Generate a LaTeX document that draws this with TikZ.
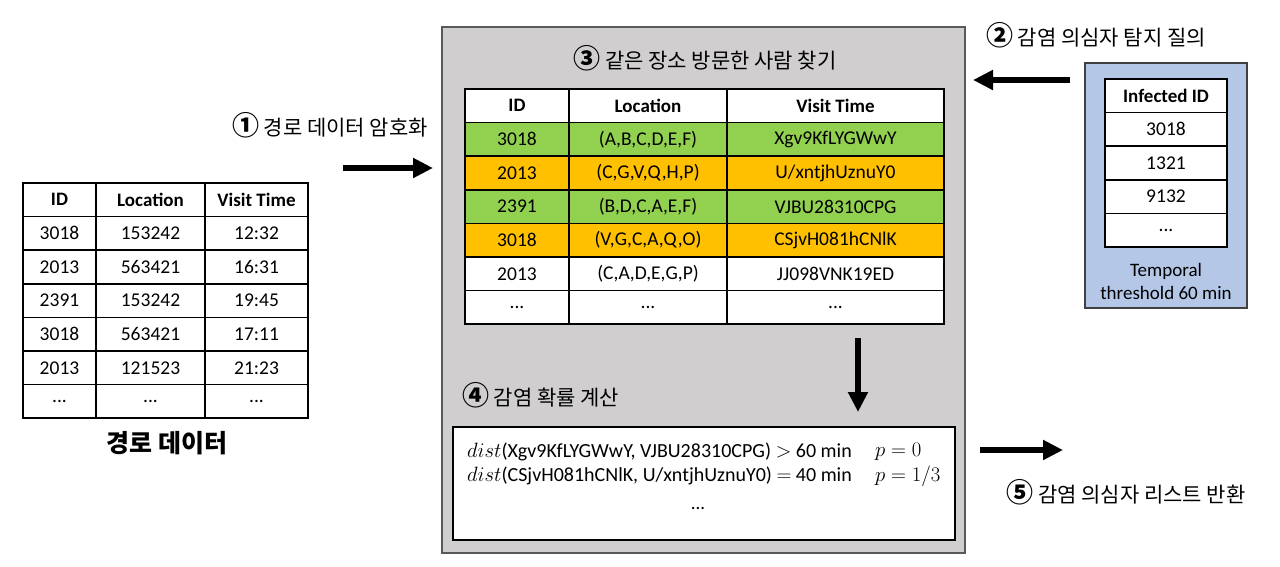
\documentclass[tikz,border=0pt]{standalone}
\usepackage{amsmath}
\usepackage{fontspec}
\setmainfont{Carlito}
\newfontfamily\krfont{Noto Sans CJK KR}
\usetikzlibrary{arrows.meta}

\definecolor{panelgray}{HTML}{D0CECE}
\definecolor{queryblue}{HTML}{B4C7E7}
\definecolor{hitgreen}{HTML}{92D050}
\definecolor{hitorange}{HTML}{FFC000}

% bold circled step number, math a bit larger than the text
\newcommand{\stepmark}[1]{{\fontsize{27}{27}\selectfont\bfseries #1}}
\newcommand{\bigmath}[1]{{\fontsize{22}{26}\selectfont$#1$}}

\tikzset{
  cell/.style={draw=black, line width=1.5pt, fill=white, minimum height=33.6pt,
    inner sep=0pt, font=\fontsize{19.5}{22}\selectfont},
  headcell/.style={cell, font=\fontsize{19}{22}\selectfont\bfseries},
  trkid/.style={minimum width=73pt}, trkloc/.style={minimum width=109pt}, trktime/.style={minimum width=103pt},
  encid/.style={minimum width=104pt}, encloc/.style={minimum width=158pt}, enctime/.style={minimum width=217pt},
  infid/.style={minimum width=122pt},
  krtext/.style={font=\krfont\fontsize{21}{25}\selectfont, inner sep=0pt},
  bodytext/.style={font=\fontsize{19}{23}\selectfont, inner sep=0pt},
  disttext/.style={font=\fontsize{20}{25}\selectfont, inner sep=0pt, anchor=west},
  bigarrow/.style={line width=6pt, -{Triangle[length=20pt,width=19pt]}},
}

\begin{document}
\begin{tikzpicture}[x=1pt,y=-1pt]
\useasboundingbox (0,0) rectangle (1280,566);

% route data
\node[headcell,trkid] (trkh1) at (59.5,199.8) {ID};
\node[headcell,trkloc] (trkh2) at (150.5,199.8) {Location};
\node[headcell,trktime] (trkh3) at (256.5,199.8) {Visit Time};
\node[cell,trkid] (trk11) at (59.5,233.4) {3018};
\node[cell,trkloc] (trk12) at (150.5,233.4) {153242};
\node[cell,trktime] (trk13) at (256.5,233.4) {12:32};
\node[cell,trkid] (trk21) at (59.5,267.0) {2013};
\node[cell,trkloc] (trk22) at (150.5,267.0) {563421};
\node[cell,trktime] (trk23) at (256.5,267.0) {16:31};
\node[cell,trkid] (trk31) at (59.5,300.6) {2391};
\node[cell,trkloc] (trk32) at (150.5,300.6) {153242};
\node[cell,trktime] (trk33) at (256.5,300.6) {19:45};
\node[cell,trkid] (trk41) at (59.5,334.2) {3018};
\node[cell,trkloc] (trk42) at (150.5,334.2) {563421};
\node[cell,trktime] (trk43) at (256.5,334.2) {17:11};
\node[cell,trkid] (trk51) at (59.5,367.8) {2013};
\node[cell,trkloc] (trk52) at (150.5,367.8) {121523};
\node[cell,trktime] (trk53) at (256.5,367.8) {21:23};
\node[cell,trkid] (trk61) at (59.5,401.4) {...};
\node[cell,trkloc] (trk62) at (150.5,401.4) {...};
\node[cell,trktime] (trk63) at (256.5,401.4) {...};
\node[font=\krfont\bfseries\fontsize{25}{30}\selectfont] (trkcap) at (167,443) {경로 데이터};

% server panel
\node[draw=black!65, line width=2pt, fill=panelgray, minimum width=523pt, minimum height=526pt] (srv) at (703.5,290) {};
\node[krtext] (encttl) at (705,58) {\stepmark{③} 같은 장소 방문한 사람 찾기};
\node[headcell,encid] (ench1) at (517,105.8) {ID};
\node[headcell,encloc] (ench2) at (648,105.8) {Location};
\node[headcell,enctime] (ench3) at (835.5,105.8) {Visit Time};
\node[cell,encid,fill=hitgreen] (enc11) at (517,139.4) {3018};
\node[cell,encloc,fill=hitgreen] (enc12) at (648,139.4) {(A,B,C,D,E,F)};
\node[cell,enctime,fill=hitgreen] (enc13) at (835.5,139.4) {Xgv9KfLYGWwY};
\node[cell,encid,fill=hitorange] (enc21) at (517,173.0) {2013};
\node[cell,encloc,fill=hitorange] (enc22) at (648,173.0) {(C,G,V,Q,H,P)};
\node[cell,enctime,fill=hitorange] (enc23) at (835.5,173.0) {U/xntjhUznuY0};
\node[cell,encid,fill=hitgreen] (enc31) at (517,206.6) {2391};
\node[cell,encloc,fill=hitgreen] (enc32) at (648,206.6) {(B,D,C,A,E,F)};
\node[cell,enctime,fill=hitgreen] (enc33) at (835.5,206.6) {VJBU28310CPG};
\node[cell,encid,fill=hitorange] (enc41) at (517,240.2) {3018};
\node[cell,encloc,fill=hitorange] (enc42) at (648,240.2) {(V,G,C,A,Q,O)};
\node[cell,enctime,fill=hitorange] (enc43) at (835.5,240.2) {CSjvH081hCNlK};
\node[cell,encid] (enc51) at (517,273.8) {2013};
\node[cell,encloc] (enc52) at (648,273.8) {(C,A,D,E,G,P)};
\node[cell,enctime] (enc53) at (835.5,273.8) {JJ098VNK19ED};
\node[cell,encid] (enc61) at (517,307.4) {...};
\node[cell,encloc] (enc62) at (648,307.4) {...};
\node[cell,enctime] (enc63) at (835.5,307.4) {...};

\node[krtext, anchor=west] (probttl) at (462,395) {\stepmark{④} 감염 확률 계산};
\node[draw=black, line width=1.5pt, fill=white, minimum width=502pt, minimum height=113pt] (probbox) at (704,483.5) {};
\node[disttext] (dist1) at (467,452) {\bigmath{dist}(Xgv9KfLYGWwY, VJBU28310CPG) \bigmath{>} 60 min};
\node[disttext] (pval1) at (875,452) {\bigmath{p=0}};
\node[disttext] (dist2) at (467,476) {\bigmath{dist}(CSjvH081hCNlK, U/xntjhUznuY0) \bigmath{=} 40 min};
\node[disttext] (pval2) at (875,476) {\bigmath{p=1/3}};
\node[bodytext] (distmore) at (698,508) {...};

% infected query
\node[krtext] (qttl) at (1096,35) {\stepmark{②} 감염 의심자 탐지 질의};
\node[draw=black!75, line width=1.5pt, fill=queryblue, minimum width=162pt, minimum height=245pt] (qbox) at (1166,185.5) {};
\node[headcell,infid] (infh) at (1166,95.8) {Infected ID};
\node[cell,infid] (inf1) at (1166,129.4) {3018};
\node[cell,infid] (inf2) at (1166,163.0) {1321};
\node[cell,infid] (inf3) at (1166,196.6) {9132};
\node[cell,infid] (inf4) at (1166,230.2) {...};
\node[bodytext, align=center] (thr) at (1166,281) {Temporal\\threshold 60 min};

% steps
\node[krtext] (encodettl) at (330,125) {\stepmark{①} 경로 데이터 암호화};
\node[krtext] (retttl) at (1126,492) {\stepmark{⑤} 감염 의심자 리스트 반환};
\coordinate (s1a) at (343,168);
\coordinate (s1b) at (433,168);
\coordinate (s2a) at (1070,80);
\coordinate (s2b) at (973,80);
\coordinate (s3a) at (858,338);
\coordinate (s3b) at (858,412);
\coordinate (s5a) at (980,450);
\coordinate (s5b) at (1063,450);
\draw[bigarrow] (s1a) -- (s1b);
\draw[bigarrow] (s2a) -- (s2b);
\draw[bigarrow] (s3a) -- (s3b);
\draw[bigarrow] (s5a) -- (s5b);
\end{tikzpicture}
\end{document}
